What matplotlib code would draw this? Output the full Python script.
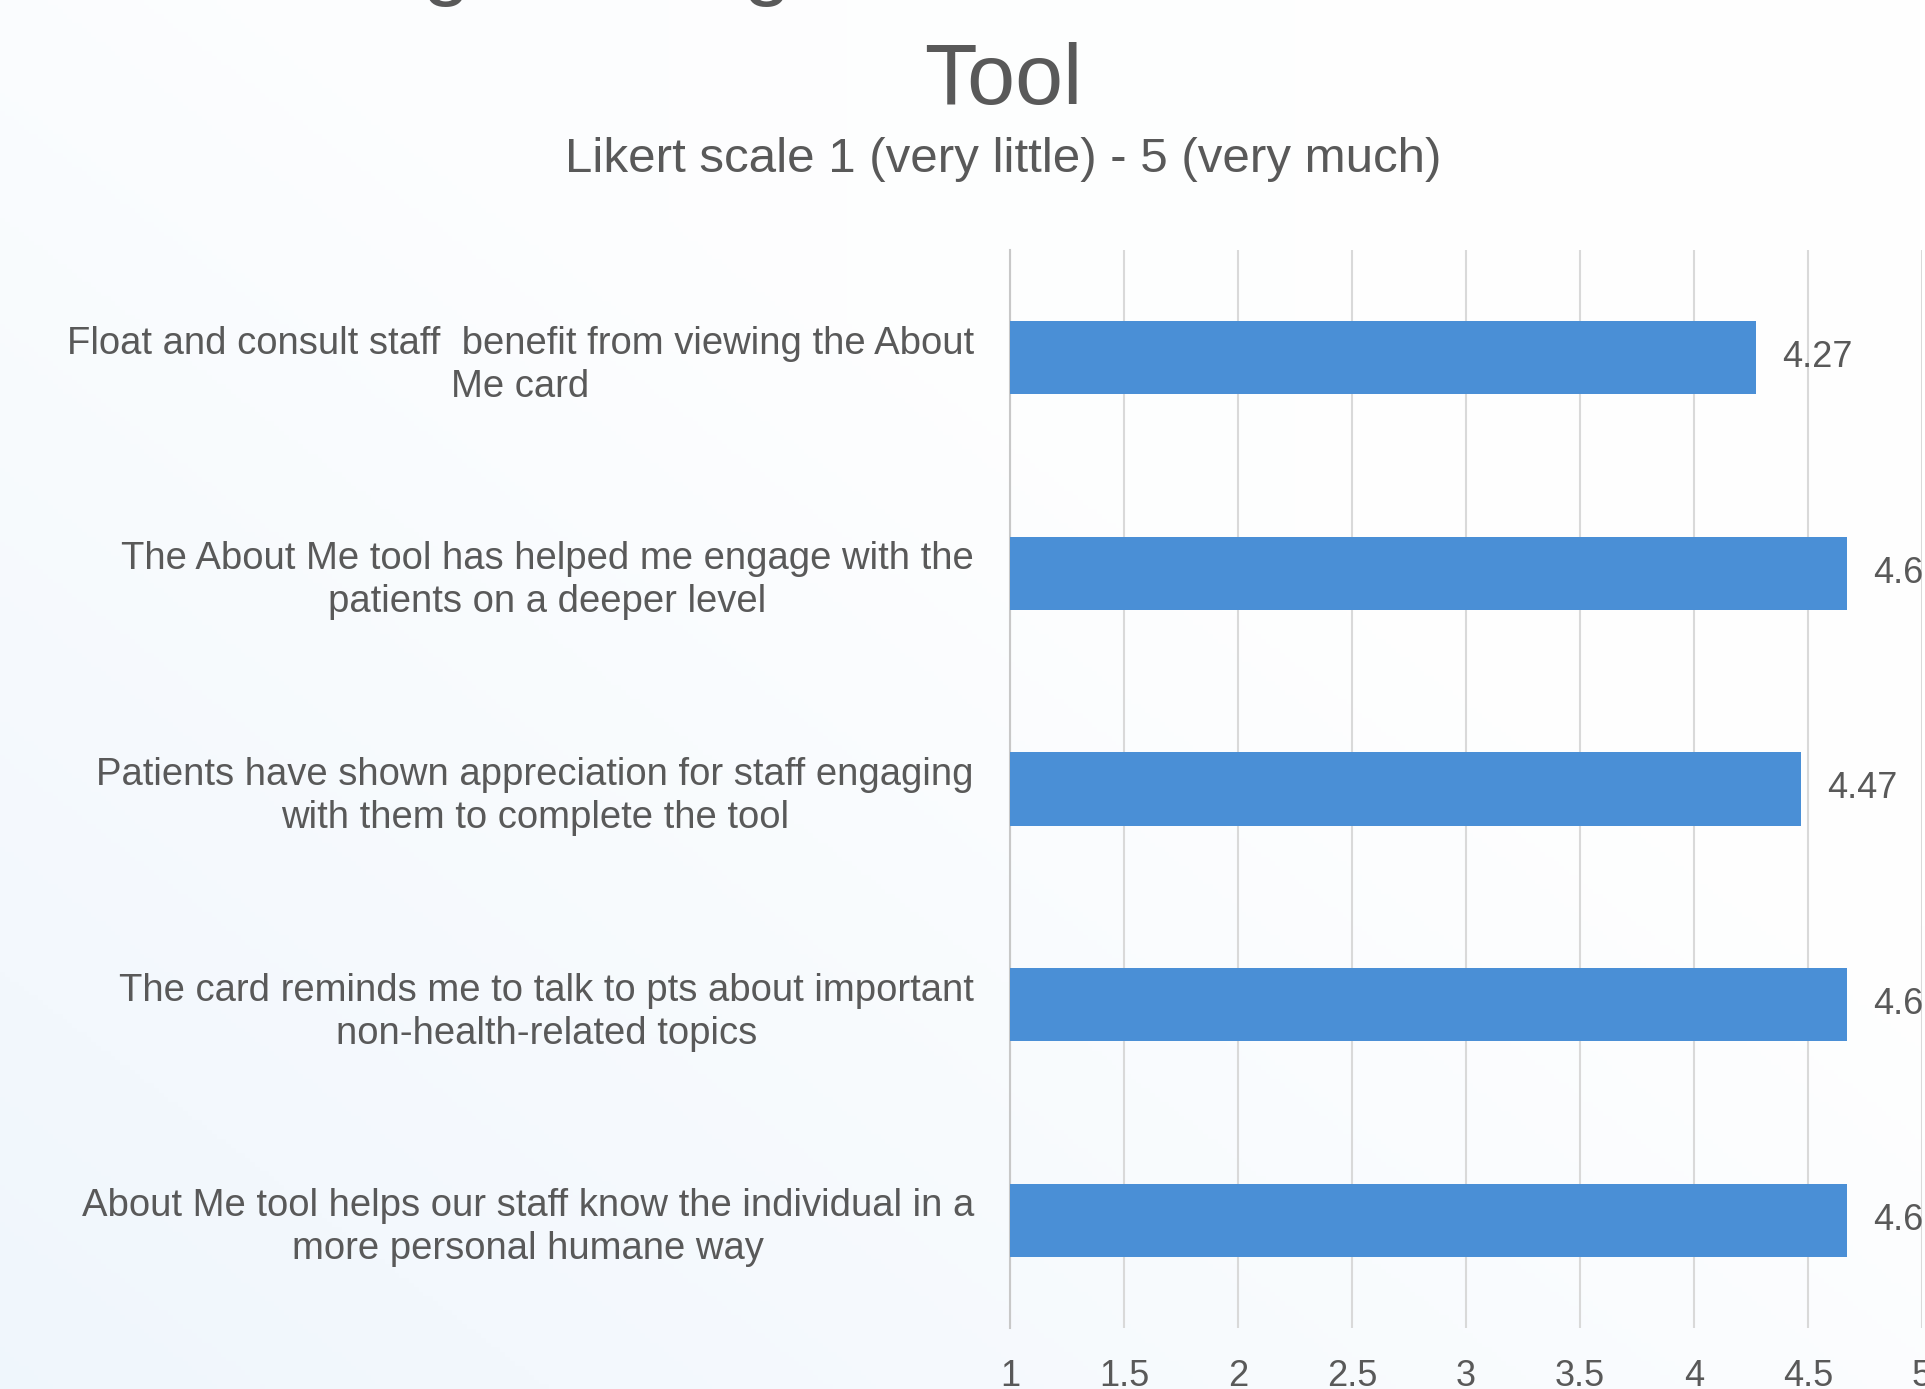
import matplotlib
matplotlib.use("Agg")
import matplotlib.pyplot as plt
import numpy as np

# survey statements (top to bottom) and their mean Likert scores
statements = [
    "Float and consult staff  benefit from viewing the About\nMe card",
    "The About Me tool has helped me engage with the\npatients on a deeper level",
    "Patients have shown appreciation for staff engaging\nwith them to complete the tool",
    "The card reminds me to talk to pts about important\nnon-health-related topics",
    "About Me tool helps our staff know the individual in a\nmore personal humane way",
]
scores = [4.27, 4.67, 4.47, 4.67, 4.67]
x_ticks = [1, 1.5, 2, 2.5, 3, 3.5, 4, 4.5, 5]
x_tick_labels = ["1", "1.5", "2", "2.5", "3", "3.5", "4", "4.5", "5"]

title_line1 = "Average Rating of the Benefit of About Me"
title_line2 = "Tool"
subtitle = "Likert scale 1 (very little) - 5 (very much)"

FONT = ["Liberation Sans", "DejaVu Sans"]
TEXT_GREY = "#595959"
BAR_BLUE = "#4a8fd6"
GRID_GREY = "#d9d9d9"

W, H = 1925, 1389
fig = plt.figure(figsize=(W / 100, H / 100), dpi=100)

# soft bluish-white background, whiter towards the top right
bg = fig.add_axes([0, 0, 1, 1], zorder=-10)
u = np.linspace(0, 1, 400)[None, :]
v = np.linspace(0, 1, 300)[:, None]
t = np.clip(1.0 - 0.7 * u - 0.9 * v, 0, 1) * 0.8 + 0.2 * (1 - u)
c0 = np.array([1.0, 1.0, 1.0])
c1 = np.array([0.94, 0.965, 0.99])
img = c0 + (c1 - c0) * t[..., None]
bg.imshow(img, origin="lower", aspect="auto", extent=[0, 1, 0, 1])
bg.axis("off")

left = 1010 / W
right = 1922 / W
top = 250
bottom = 1328
ax = fig.add_axes([left, (H - bottom) / H, right - left, (bottom - top) / H])
ax.patch.set_alpha(0)

y = np.arange(len(statements))
bars = ax.barh(y, scores, left=0, height=0.34, color=BAR_BLUE, zorder=3)
ax.set_xlim(1, 5)
ax.set_ylim(len(statements) - 0.5, -0.5)

ax.set_xticks(x_ticks)
ax.set_xticklabels(x_tick_labels, fontsize=26, color=TEXT_GREY, family=FONT)
ax.set_yticks(y)
ax.set_yticklabels(statements, fontsize=27.5, color=TEXT_GREY, family=FONT,
                   multialignment="center", linespacing=1.25)
ax.tick_params(axis="both", length=0)
ax.tick_params(axis="x", pad=22)
ax.tick_params(axis="y", pad=26)

ax.grid(axis="x", color=GRID_GREY, linewidth=1.5, zorder=0)
for side in ["top", "right", "bottom"]:
    ax.spines[side].set_visible(False)
ax.spines["left"].set_color("#c8c8c8")
ax.spines["left"].set_linewidth(1.5)

ax.bar_label(bars, labels=[f"{s:.2f}" for s in scores], padding=19,
             fontsize=26, color=TEXT_GREY, family=FONT, clip_on=False)

cx = 1003 / W
fig.text(cx, 1 + 11 / H, title_line1, ha="center", va="baseline",
         fontsize=62, color=TEXT_GREY, family=FONT)
fig.text(cx, 1 - 104 / H, title_line2, ha="center", va="baseline",
         fontsize=62, color=TEXT_GREY, family=FONT)
fig.text(cx, 1 - 160 / H, subtitle, ha="center", va="center",
         fontsize=35.5, color=TEXT_GREY, family=FONT)

fig.savefig("out.png", dpi=100)
